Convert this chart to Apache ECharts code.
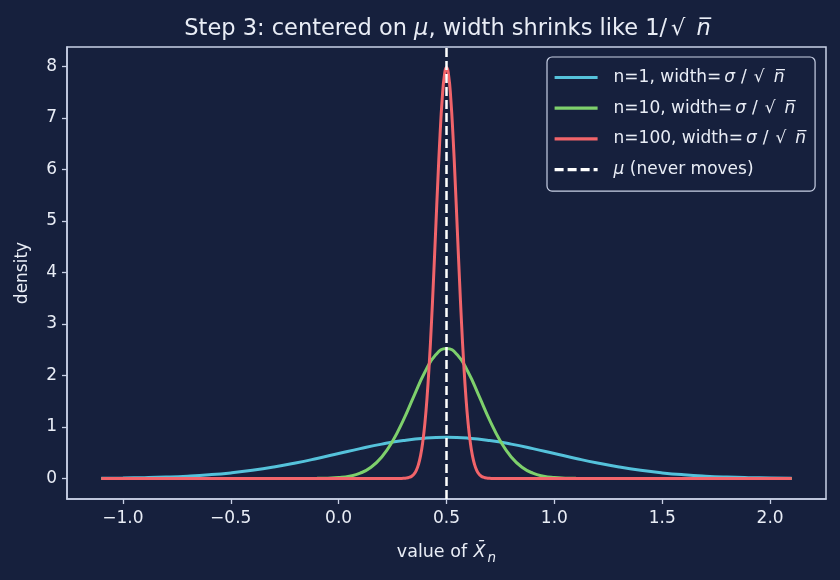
<!DOCTYPE html>
<html><head><meta charset="utf-8">
<script src="https://cdn.jsdelivr.net/npm/echarts@6/dist/echarts.min.js"></script>
<style>html,body{margin:0;padding:0;background:#16203d;}#c{width:840px;height:580px;}</style>
</head><body><div id="c"></div>
<script>
const mu = [0.5];
const xs1 = [-1.1,-1.0,-0.9,-0.8,-0.7,-0.6,-0.5,-0.4,-0.3,-0.2,-0.1,0.0,0.1,0.2,0.3,0.4,0.5,0.6,0.7,0.8,0.9,1.0,1.1,1.2,1.3,1.4,1.5,1.6,1.7,1.8,1.9,2.0,2.1];
const ys1 = [0.0048,0.0089,0.0158,0.0272,0.0448,0.0710,0.1080,0.1579,0.2218,0.2995,0.3884,0.4839,0.5794,0.6665,0.7366,0.7821,0.7979,0.7821,0.7366,0.6665,0.5794,0.4839,0.3884,0.2995,0.2218,0.1579,0.1080,0.0710,0.0448,0.0272,0.0158,0.0089,0.0048];
const xs10 = [-1.1,-0.2,-0.15,-0.1,-0.05,0.0,0.05,0.1,0.15,0.2,0.25,0.3,0.35,0.4,0.45,0.5,0.55,0.6,0.65,0.7,0.75,0.8,0.85,0.9,0.95,1.0,1.05,1.1,1.15,1.2,2.1];
const ys10 = [0,0.0001,0.0005,0.0019,0.0059,0.0170,0.0440,0.1028,0.2177,0.4170,0.7230,1.1340,1.6090,2.0660,2.4000,2.5230,2.4000,2.0660,1.6090,1.1340,0.7230,0.4170,0.2177,0.1028,0.0440,0.0170,0.0059,0.0019,0.0005,0.0001,0];
const xs100 = [-1.1,0.25,0.26,0.27,0.28,0.29,0.30,0.31,0.32,0.33,0.34,0.35,0.36,0.37,0.38,0.39,0.40,0.41,0.42,0.43,0.44,0.45,0.46,0.47,0.48,0.49,0.50,0.51,0.52,0.53,0.54,0.55,0.56,0.57,0.58,0.59,0.60,0.61,0.62,0.63,0.64,0.65,0.66,0.67,0.68,0.69,0.70,0.71,0.72,0.73,0.74,0.75,2.1];
const ys100 = [0,0.0000,0.0001,0.0002,0.0005,0.0012,0.0027,0.0058,0.0122,0.0247,0.0477,0.0886,0.1583,0.2717,0.4479,0.7095,1.0798,1.5790,2.2184,2.9946,3.8838,4.8394,5.7938,6.6645,7.3654,7.8209,7.9788,7.8209,7.3654,6.6645,5.7938,4.8394,3.8838,2.9946,2.2184,1.5790,1.0798,0.7095,0.4479,0.2717,0.1583,0.0886,0.0477,0.0247,0.0122,0.0058,0.0027,0.0012,0.0005,0.0002,0.0001,0.0000,0];
const xTicks = [-1.0,-0.5,0.0,0.5,1.0,1.5,2.0];
const yTicks = [0,1,2,3,4,5,6,7,8];
const seriesNames = ['n=1','n=10','n=100','mu'];

const BG = '#16203d', FG = '#e9edf6', SP = '#c9d1e6';
const FONT = 'DejaVu Sans';
const zip = (a,b) => a.map((v,i)=>[v,b[i]]);
const ovn = 'n\u0305';
const mathPart = '{s|σ}{sl|/}{r|√}{n|' + ovn + '}';
const legendText = {
  'n=1': '{a|n=1, width=}' + mathPart,
  'n=10': '{a|n=10, width=}' + mathPart,
  'n=100': '{a|n=100, width=}' + mathPart,
  'mu': '{i|μ}{a| (never moves)}'
};
function richSet(fs) {
  return {
    a: {color: FG, fontSize: fs, fontFamily: FONT},
    i: {color: FG, fontSize: fs, fontFamily: FONT, fontStyle: 'italic'},
    s: {color: FG, fontSize: fs, fontFamily: FONT, fontStyle: 'italic', padding: [0, 3, 0, 3]},
    sl: {color: FG, fontSize: fs, fontFamily: FONT, padding: [0, 4, 0, 3]},
    r: {color: FG, fontSize: fs, fontFamily: FONT, padding: [0, 5, 0, 3]},
    n: {color: FG, fontSize: fs, fontFamily: FONT, fontStyle: 'italic', padding: [0, 6, 0, 4]}
  };
}
const minus = v => String(v).replace('-', '\u2212');
const chart = echarts.init(document.getElementById('c'), null, {renderer:'canvas'});
const lineCommon = {type:'line', showSymbol:false, symbol:'none', smooth:true, animation:false};
const titleRich = richSet(22.5);
titleRich.r.padding = [0, 7, 0, 4];
titleRich.n.padding = [0, 7, 0, 4];
chart.setOption({
  backgroundColor: BG,
  animation: false,
  title: {
    text: '{a|Step 3: centered on }{i|μ}{a|, width shrinks like 1/}{r|√}{n|' + ovn + '}',
    left: 446, top: 13, textAlign: 'center',
    textStyle: {color: FG, fontSize: 22.5, fontWeight: 'normal', fontFamily: FONT, rich: titleRich}
  },
  grid: {left: 67, right: 14, top: 47, bottom: 81, show: true, borderColor: SP, borderWidth: 1.5, backgroundColor: BG},
  legend: {
    orient: 'vertical', left: 547, top: 57,
    data: seriesNames,
    itemWidth: 43, itemHeight: 18, itemGap: 13.7,
    padding: [12, 9, 13, 6],
    borderColor: SP, borderWidth: 1.2, borderRadius: 5, backgroundColor: BG,
    itemStyle: {opacity: 0},
    lineStyle: {width: 3.2},
    formatter: n => legendText[n],
    textStyle: {color: FG, fontSize: 17, fontFamily: FONT, padding: [0,0,0,11], rich: richSet(17)}
  },
  xAxis: {
    type: 'value', min: -1.259, max: 2.259,
    name: '{a|value of }{i|X\u0304}{sub|n}', nameLocation: 'middle', nameGap: 40,
    nameTextStyle: {color: FG, fontSize: 17.5, fontFamily: FONT,
      rich: {a:{color:FG,fontSize:17.5,fontFamily:FONT}, i:{color:FG,fontSize:17.5,fontFamily:FONT,fontStyle:'italic', padding:[0,1,0,1]},
             sub:{color:FG,fontSize:13.5,fontFamily:FONT,fontStyle:'italic', padding:[12,0,0,1]}}},
    axisLine: {show: true, onZero: false, lineStyle: {color: SP, width: 1.5}},
    axisTick: {show: true, length: 5, lineStyle: {color: SP, width: 1.3}, customValues: xTicks},
    axisLabel: {color: FG, fontSize: 17, fontFamily: FONT, margin: 11, customValues: xTicks, formatter: v => minus(v.toFixed(1))},
    splitLine: {show: false}
  },
  yAxis: {
    type: 'value', min: -0.399, max: 8.378,
    name: 'density', nameLocation: 'middle', nameGap: 36,
    nameTextStyle: {color: FG, fontSize: 17, fontFamily: FONT},
    axisLine: {show: true, onZero: false, lineStyle: {color: SP, width: 1.5}},
    axisTick: {show: true, length: 5, lineStyle: {color: SP, width: 1.3}, customValues: yTicks},
    axisLabel: {color: FG, fontSize: 17, fontFamily: FONT, margin: 10, customValues: yTicks, formatter: v => String(v)},
    splitLine: {show: false}
  },
  series: [
    Object.assign({}, lineCommon, {name:'n=1', data: zip(xs1, ys1), lineStyle:{color:'#55c2db', width:3}, itemStyle:{color:'#55c2db'}, z:2}),
    Object.assign({}, lineCommon, {name:'n=10', data: zip(xs10, ys10), lineStyle:{color:'#7ed06c', width:3}, itemStyle:{color:'#7ed06c'}, z:3}),
    Object.assign({}, lineCommon, {name:'n=100', data: zip(xs100, ys100), lineStyle:{color:'#f1646a', width:3}, itemStyle:{color:'#f1646a'}, z:4}),
    {type:'line', name:'mu', data: [], showSymbol:false, symbol:'none', z:5,
     lineStyle:{color:'#ffffff', width:2.5, type:[9,4]}, itemStyle:{color:'#ffffff'},
     markLine: {silent:true, symbol:['none','none'], label:{show:false},
       lineStyle:{color:'#ffffff', width:2.5, type:[9,4]},
       data: [{xAxis: mu[0]}]}}
  ]
});
</script></body></html>
